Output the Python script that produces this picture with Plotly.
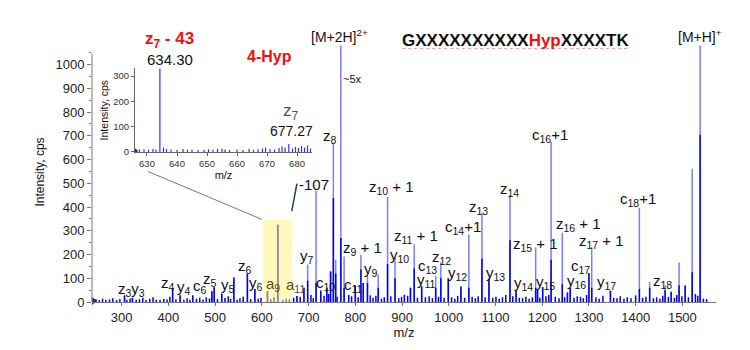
import plotly.graph_objects as go

# ---------------- data ----------------
# main spectrum: major peaks (m/z, full light height, dark-core height)
peak_mz = [306, 323, 409, 425, 452, 493, 498, 514, 540, 569, 585, 612, 634.3, 675, 690, 698, 716, 726,
           739, 747, 753, 758, 769, 776, 800, 812, 817, 826, 849, 869, 885, 918, 926, 942, 972, 983, 999,
           1026, 1043, 1071, 1086, 1131, 1144, 1186, 1190, 1201, 1219, 1243, 1254, 1260, 1300, 1306,
           1346, 1408, 1430, 1463, 1476, 1493, 1506, 1521, 1538]
peak_light = [28, 18, 59, 28, 28, 45, 62, 35, 103, 120, 55, 46, 325, 25, 60, 158, 469, 48,
              60, 129, 670, 178, 1080, 192, 69, 199, 80, 110, 117, 442, 185, 60, 243, 66, 110, 167, 100,
              65, 284, 374, 98, 450, 51, 230, 55, 63, 674, 292, 40, 59, 121, 232,
              48, 397, 84, 69, 43, 166, 69, 561, 1080]
peak_dark = [28, 18, 59, 28, 28, 45, 62, 35, 103, 120, 55, 46, 325, 25, 60, 90, 80, 48,
             60, 129, 438, 120, 270, 60, 69, 137, 80, 80, 60, 160, 100, 60, 141, 66, 60, 100, 100,
             65, 60, 182, 98, 260, 51, 60, 55, 63, 178, 75, 40, 59, 121, 60,
             48, 55, 60, 50, 43, 70, 69, 125, 704]

# baseline noise peaks (m/z, height)
noise_mz = [241, 245, 252, 259, 266, 274, 281, 289, 296, 311, 318, 331, 338, 345, 352, 360, 367, 374,
            382, 390, 397, 403, 416, 433, 440, 446, 460, 467, 474, 481, 488, 505, 521, 528, 533, 547,
            553, 560, 576, 592, 598, 619, 626, 645, 652, 659, 668, 682, 705, 710, 733, 743, 761, 786,
            792, 806, 832, 838, 844, 856, 862, 876, 893, 899, 905, 912, 933, 950, 958, 965, 978, 990,
            1006, 1013, 1019, 1034, 1050, 1057, 1063, 1078, 1094, 1101, 1108, 1115, 1122, 1137, 1151,
            1158, 1165, 1172, 1179, 1195, 1208, 1214, 1228, 1236, 1248, 1268, 1275, 1282, 1288, 1295,
            1315, 1322, 1330, 1353, 1360, 1367, 1375, 1382, 1390, 1400, 1415, 1422, 1438, 1445, 1452,
            1458, 1470, 1483, 1488, 1499, 1513, 1528, 1533, 1545, 1552]
noise_h = [10, 12, 8, 14, 9, 11, 16, 8, 13, 10, 15, 9, 12, 18, 8, 14, 20, 10,
           9, 13, 11, 22, 12, 10, 16, 9, 14, 18, 11, 20, 15, 12, 17, 24, 13, 10,
           16, 22, 12, 14, 18, 12, 20, 10, 14, 12, 18, 22, 30, 16, 26, 34, 22, 30,
           24, 20, 28, 18, 26, 14, 20, 24, 16, 22, 30, 26, 18, 20, 24, 16, 22, 18,
           20, 14, 26, 18, 22, 16, 24, 20, 18, 22, 14, 20, 30, 24, 18,
           16, 22, 14, 20, 18, 24, 30, 22, 16, 20, 18, 24, 22, 16, 30,
           20, 14, 26, 18, 16, 24, 14, 20, 16, 28, 18, 22, 16, 20, 14,
           26, 22, 18, 30, 24, 20, 34, 26, 14, 12]

# inset spectrum (zoom around 625-685)
inset_mz = [626, 627.5, 629, 630.5, 632, 633, 634.3, 635.5, 636.5, 638, 640, 642, 643.5, 645, 647, 649,
            650.5, 652, 653.5, 655, 656, 657.5, 660, 662, 664, 665.5, 667, 668.5, 669.5, 671, 672.5,
            674, 675, 676, 677.27, 678.5, 679.5, 680.5, 681.5, 682.5, 683.5, 684.5]
inset_h = [12, 10, 11, 9, 12, 10, 331, 18, 12, 10, 8, 12, 9, 10, 8, 9,
           11, 9, 12, 14, 10, 8, 10, 8, 12, 9, 11, 14, 18, 12, 10,
           16, 22, 18, 32, 14, 20, 16, 24, 18, 26, 14]

# peak labels (text, m/z, intensity)
labels = ["z<sub>3</sub>y<sub>3</sub>", "z<sub>4</sub>", "y<sub>4</sub>", "c<sub>6</sub>", "z<sub>5</sub>",
          "y<sub>5</sub>", "z<sub>6</sub>", "y<sub>6</sub>", "y<sub>7</sub>", "c<sub>10</sub>",
          "c<sub>11</sub>", "z<sub>8</sub>", "-107", "z<sub>9</sub> + 1", "y<sub>9</sub>",
          "z<sub>10</sub> + 1", "y<sub>10</sub>", "z<sub>11</sub> + 1", "c<sub>13</sub>", "y<sub>11</sub>",
          "z<sub>12</sub>", "y<sub>12</sub>", "c<sub>14</sub>+1", "z<sub>13</sub>", "y<sub>13</sub>",
          "z<sub>14</sub>", "y<sub>14</sub>", "z<sub>15</sub> + 1", "y<sub>15</sub>", "c<sub>16</sub>+1",
          "z<sub>16</sub> + 1", "y<sub>16</sub>", "c<sub>17</sub>", "z<sub>17</sub> + 1", "y<sub>17</sub>",
          "c<sub>18</sub>+1", "z<sub>18</sub>", "~5x"]
label_mz = [320, 399, 433, 468, 489, 528, 564, 588, 697, 737, 797, 746, 712, 815, 834,
            877, 894, 930, 954, 952, 984, 1018, 1031, 1063, 1099, 1131, 1159, 1185, 1208, 1217,
            1277, 1273, 1283, 1326, 1337, 1406, 1457, 793]
label_y = [51, 76, 59, 64, 96, 68, 150, 80, 191, 76, 68, 695, 493, 227, 137,
           482, 195, 277, 150, 92, 186, 121, 313, 400, 121, 473, 80, 244, 84, 703,
           326, 88, 150, 256, 84, 432, 88, 940]

a_labels = ["a<sub>9</sub>", "a<sub>11</sub>"]
a_mz = [624, 673]
a_y = [72, 68]

x_ticks = [300, 400, 500, 600, 700, 800, 900, 1000, 1100, 1200, 1300, 1400, 1500]
y_ticks = [0, 100, 200, 300, 400, 500, 600, 700, 800, 900, 1000]
inset_xticks = [630, 640, 650, 660, 670, 680]
inset_yticks = [0, 100, 200, 300]

# ---------------- figure ----------------
FONT = "Liberation Sans, Arial, sans-serif"
LIGHT = "#7c7cff"
DARK = "#0000ee"


def stems(xs, hs):
    X, Y = [], []
    for x, h in zip(xs, hs):
        X += [x, x, None]
        Y += [0, h, None]
    return X, Y


fig = go.Figure()

nx, ny = stems(noise_mz, noise_h)
fig.add_trace(go.Scatter(x=nx, y=ny, mode="lines", line=dict(color=DARK, width=1.5),
                         hoverinfo="skip", showlegend=False))
lx, ly = stems(peak_mz, peak_light)
fig.add_trace(go.Scatter(x=lx, y=ly, mode="lines", line=dict(color=LIGHT, width=1.5),
                         hoverinfo="skip", showlegend=False))
dx, dy = stems(peak_mz, peak_dark)
fig.add_trace(go.Scatter(x=dx, y=dy, mode="lines", line=dict(color=DARK, width=1.5),
                         hoverinfo="skip", showlegend=False))
# origin arrow marker
fig.add_trace(go.Scatter(x=[240], y=[4], mode="markers", cliponaxis=False,
                         marker=dict(symbol="triangle-right", size=7, color="#1a2ea0"),
                         hoverinfo="skip", showlegend=False))

ix, iy = stems(inset_mz, inset_h)
fig.add_trace(go.Scatter(x=ix, y=iy, mode="lines", line=dict(color="#3030ff", width=1.2),
                         xaxis="x2", yaxis="y2", hoverinfo="skip", showlegend=False))
fig.add_trace(go.Scatter(x=[626.3], y=[4], mode="markers", cliponaxis=False, xaxis="x2", yaxis="y2",
                         marker=dict(symbol="triangle-right", size=5, color="#1a2ea0"),
                         hoverinfo="skip", showlegend=False))

fig.update_layout(
    width=750, height=350,
    margin=dict(l=92, r=34, t=42, b=41),
    paper_bgcolor="white", plot_bgcolor="rgba(0,0,0,0)",
    font=dict(family=FONT, color="#111", size=13),
    xaxis=dict(range=[236.4, 1572], tickvals=x_ticks, showgrid=False, zeroline=False,
               showline=True, linecolor="#777", linewidth=1, ticks="outside", ticklen=3,
               tickcolor="#777", tickfont=dict(size=13, color="#222"),
               title=dict(text="m/z", font=dict(size=13), standoff=4)),
    yaxis=dict(range=[0, 1095], tickvals=y_ticks, showgrid=False, zeroline=False,
               showline=False, ticks="outside", ticklen=4, tickcolor="#777",
               minor=dict(ticks="outside", ticklen=2, dtick=50, tickcolor="#777"),
               tickfont=dict(size=13, color="#222"),
               title=dict(text="Intensity, cps", font=dict(size=12), standoff=8)),
    xaxis2=dict(domain=[0.0689, 0.3526], anchor="y2", range=[626, 685], tickvals=inset_xticks,
                showgrid=False, zeroline=False, showline=True, linecolor="#666", linewidth=1,
                ticks="outside", ticklen=3, tickcolor="#666", tickfont=dict(size=9.5, color="#333"),
                title=dict(text="m/z", font=dict(size=11), standoff=2)),
    yaxis2=dict(domain=[0.577, 0.899], anchor="x2", range=[0, 331], tickvals=inset_yticks,
                showgrid=False, zeroline=False, showline=True, linecolor="#666", linewidth=1,
                ticks="outside", ticklen=3, tickcolor="#666", tickfont=dict(size=9.5, color="#333"),
                title=dict(text="Intensity, cps", font=dict(size=10.5), standoff=2)),
)

shapes = [
    # main y axis line
    dict(type="line", xref="paper", yref="y", x0=0, x1=0, y0=0, y1=1047,
         line=dict(color="#777", width=1)),
    # yellow highlight
    dict(type="rect", xref="x", yref="y", x0=603, x1=665, y0=0, y1=346,
         fillcolor="rgba(255,245,120,0.5)", line=dict(width=0), layer="above"),
    # connector from inset to highlight
    dict(type="line", xref="paper", yref="paper", x0=0.0897, y0=0.502, x1=0.272, y1=0.318,
         line=dict(color="#777", width=1)),
    # -107 slash
    dict(type="line", xref="x", yref="y", x0=664, y0=383, x1=675, y1=499,
         line=dict(color="#24405e", width=1.5)),
    # underline of sequence
    dict(type="line", xref="paper", yref="paper", x0=0.497, x1=0.86, y0=0.975, y1=0.975,
         line=dict(color="#e9a0a0", width=1.2, dash="dot")),
]
fig.update_layout(shapes=shapes)

ann = []
for t, x, y in zip(labels, label_mz, label_y):
    ann.append(dict(x=x, y=y, xref="x", yref="y", text=t, showarrow=False,
                    xanchor="center", yanchor="middle",
                    font=dict(size=15 if t != "~5x" else 11, color="#111", family=FONT)))
for t, x, y in zip(a_labels, a_mz, a_y):
    ann.append(dict(x=x, y=y, xref="x", yref="y", text=t, showarrow=False,
                    xanchor="center", yanchor="middle",
                    font=dict(size=15, color="#5c4a1e", family=FONT)))

ann += [
    dict(x=0.1234, y=1.0075, xref="paper", yref="paper", showarrow=False,
         text="<b>z<sub>7</sub> - 43</b>", font=dict(size=17, color="#ee1111", family=FONT)),
    dict(x=0.125, y=0.9326, xref="paper", yref="paper", showarrow=False,
         text="634.30", font=dict(size=15, color="#111", family=FONT)),
    dict(x=0.2837, y=0.9438, xref="paper", yref="paper", showarrow=False,
         text="<b>4-Hyp</b>", font=dict(size=16, color="#ee1111", family=FONT)),
    dict(x=0.319, y=0.730, xref="paper", yref="paper", showarrow=False,
         text="z<sub>7</sub>", font=dict(size=17, color="#2f5b8c", family=FONT)),
    dict(x=0.3205, y=0.659, xref="paper", yref="paper", showarrow=False,
         text="677.27", font=dict(size=14, color="#111", family=FONT)),
    dict(x=767, y=1.0225, xref="x", yref="paper", showarrow=False,
         text="[M+2H]<sup>2+</sup>", font=dict(size=14, color="#111", family=FONT)),
    dict(x=0.678, y=1.0075, xref="paper", yref="paper", showarrow=False,
         text="<b>GXXXXXXXXXX<span style='color:#ee1111'>Hyp</span>XXXXTK</b>",
         font=dict(size=17, color="#111", family=FONT)),
    dict(x=1538, y=1.0225, xref="x", yref="paper", showarrow=False,
         text="[M+H]<sup>+</sup>", font=dict(size=14, color="#111", family=FONT)),
]
for a in ann[-8:]:
    a["xanchor"] = "center"
    a["yanchor"] = "middle"
fig.update_layout(annotations=ann)

fig.write_html("out.html")
